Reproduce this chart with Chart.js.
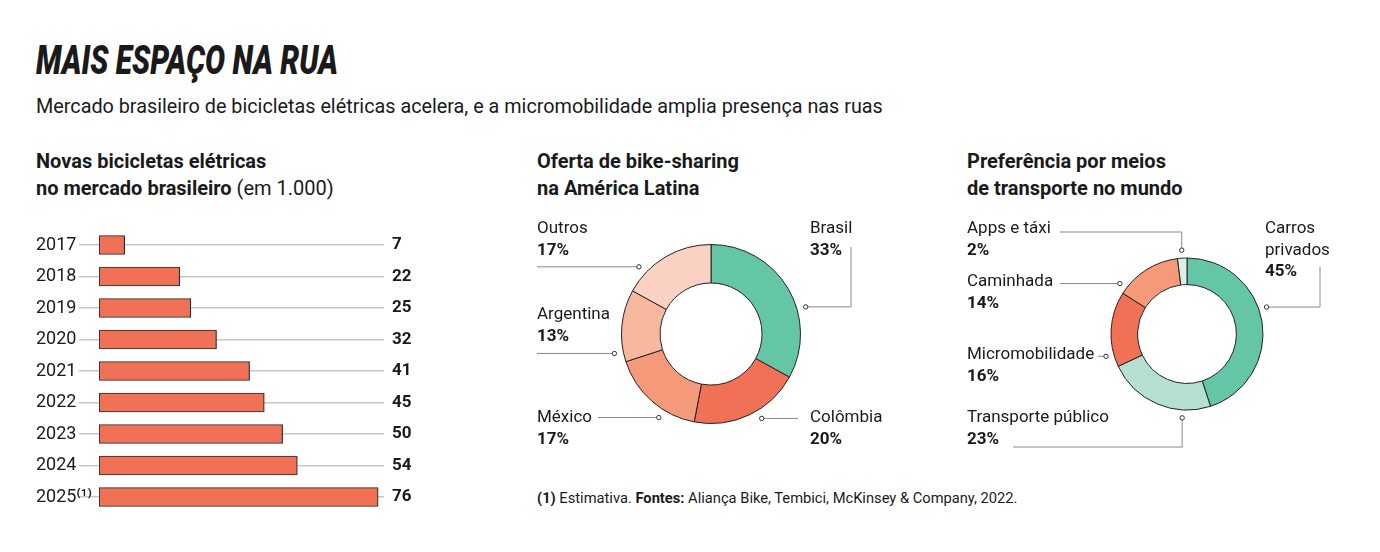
<!DOCTYPE html>
<html lang="pt-BR">
<head>
<meta charset="utf-8">
<title>Mais espaço na rua</title>
<script src="https://cdn.jsdelivr.net/npm/chart.js@4.4.1/dist/chart.umd.min.js"></script>
<style>
    html, body { margin: 0; padding: 0; background: #fff; }
    body { width: 1380px; height: 552px; position: relative; overflow: hidden; font-family: Roboto, "Noto Sans", sans-serif; color: #1a1a1a; }
    .title { position: absolute; left: 36px; top: 38px; font-size: 41px; font-weight: 900; font-style: italic; line-height: 44px; white-space: nowrap; transform: scaleX(0.73); transform-origin: left center; }
    .subtitle { position: absolute; left: 36px; top: 94px; font-size: 19.8px; line-height: 26px; white-space: nowrap; }
    .head { position: absolute; top: 148px; font-size: 20px; font-weight: 700; line-height: 27px; white-space: nowrap; }
    .head span { font-weight: 400; }
    .note { position: absolute; left: 537px; top: 487px; font-size: 14.7px; line-height: 22px; white-space: nowrap; }
    .note b { font-weight: 700; }
    canvas { position: absolute; }
</style>
</head>
<body>
<div class="title">MAIS ESPAÇO NA RUA</div>
<div class="subtitle">Mercado brasileiro de bicicletas elétricas acelera, e a micromobilidade amplia presença nas ruas</div>

<div class="head" style="left:36px">Novas bicicletas elétricas<br>no mercado brasileiro <span>(em 1.000)</span></div>
<div class="head" style="left:537px">Oferta de bike-sharing<br>na América Latina</div>
<div class="head" style="left:967px">Preferência por meios<br>de transporte no mundo</div>

<canvas id="bars" width="420" height="300" style="left:20px; top:220px"></canvas>
<canvas id="share" width="380" height="270" style="left:520px; top:200px"></canvas>
<canvas id="modes" width="400" height="270" style="left:950px; top:200px"></canvas>

<div class="note"><b>(1)</b> Estimativa. <b>Fontes:</b> Aliança Bike, Tembici, McKinsey &amp; Company, 2022.</div>

<script>
// Novas bicicletas elétricas (em 1.000)
const years = ['2017', '2018', '2019', '2020', '2021', '2022', '2023', '2024', '2025⁽¹⁾'];
const bikes = [7, 22, 25, 32, 41, 45, 50, 54, 76];

// Oferta de bike-sharing na América Latina (%)
const shareCountries = ['Brasil', 'Colômbia', 'México', 'Argentina', 'Outros'];
const shareValues = [33, 20, 17, 13, 17];

// Preferência por meios de transporte no mundo (%)
const modeNames = ['Carros privados', 'Transporte público', 'Micromobilidade', 'Caminhada', 'Apps e táxi'];
const modeValues = [45, 23, 16, 14, 2];

const INK = '#1a1a1a';
const FONT = 'Roboto, "Noto Sans", sans-serif';

// numbers to the right of each bar
const valueLabels = {
    id: 'valueLabels',
    afterDatasetsDraw(chart) {
        const { ctx, chartArea } = chart;
        const meta = chart.getDatasetMeta(0);
        const values = chart.data.datasets[0].data;
        ctx.save();
        ctx.font = '700 17px ' + FONT;
        ctx.fillStyle = INK;
        ctx.textBaseline = 'middle';
        meta.data.forEach((bar, i) => ctx.fillText(String(values[i]), chartArea.right + 8, bar.y));
        ctx.restore();
    }
};

// leader lines + labels around the doughnuts
const callouts = {
    id: 'callouts',
    afterDraw(chart, args, opts) {
        const { ctx } = chart;
        const arcs = chart.getDatasetMeta(0).data;
        if (!arcs.length) return;
        const cx = arcs[0].x, cy = arcs[0].y;
        const r = arcs[0].outerRadius + opts.gap;
        const names = chart.data.labels;
        const values = chart.data.datasets[0].data;

        ctx.save();
        opts.items.forEach(it => {
            const a = it.angle * Math.PI / 180;
            const px = cx + Math.sin(a) * r;
            const py = cy - Math.cos(a) * r;

            ctx.strokeStyle = '#8a8a8a';
            ctx.lineWidth = 1;
            ctx.beginPath();
            ctx.moveTo(px, py);
            if (it.leader === 'h') {
                ctx.lineTo(it.x2, py);
            } else if (it.leader === 'hv') {
                ctx.lineTo(it.x2, py);
                ctx.lineTo(it.x2, it.y2);
            } else if (it.leader === 'vh') {
                ctx.lineTo(px, it.y2);
                ctx.lineTo(it.x2, it.y2);
            }
            ctx.stroke();

            ctx.beginPath();
            ctx.arc(px, py, 2.2, 0, Math.PI * 2);
            ctx.fillStyle = '#fff';
            ctx.fill();
            ctx.strokeStyle = '#333';
            ctx.stroke();

            const name = names[it.index];
            const lines = it.split ? name.split(' ') : [name];
            ctx.fillStyle = INK;
            ctx.textBaseline = 'middle';
            ctx.textAlign = 'left';
            ctx.font = '400 17px ' + FONT;
            lines.forEach((ln, k) => ctx.fillText(ln, it.tx, it.ty + k * 21.5));
            ctx.font = '700 17px ' + FONT;
            ctx.fillText(values[it.index] + '%', it.tx, it.ty + lines.length * 21.5);
        });
        ctx.restore();
    }
};

new Chart(document.getElementById('bars'), {
    type: 'bar',
    data: {
        labels: years,
        datasets: [{
            data: bikes,
            backgroundColor: '#f07155',
            borderColor: '#2b2b2b',
            borderWidth: 1.2,
            borderSkipped: false,
            barThickness: 19
        }]
    },
    options: {
        indexAxis: 'y',
        responsive: false,
        animation: false,
        layout: { padding: { left: 16, right: 56, top: 9.25, bottom: 7.25 } },
        plugins: { legend: { display: false }, tooltip: { enabled: false } },
        scales: {
            x: { display: false, min: 0, max: 77.6 },
            y: {
                afterFit: scale => {
                    scale.width = 63;
                    scale.paddingTop = 0;
                    scale.paddingBottom = 0;
                },
                border: { display: false },
                grid: { offset: false, color: '#c8c8c8', lineWidth: 1.5, tickLength: 20 },
                ticks: { crossAlign: 'far', color: INK, font: { family: FONT, size: 18 } }
            }
        }
    },
    plugins: [valueLabels]
});

new Chart(document.getElementById('share'), {
    type: 'doughnut',
    data: {
        labels: shareCountries,
        datasets: [{
            data: shareValues,
            backgroundColor: ['#64c5a7', '#f07155', '#f5997b', '#f8b79f', '#fad1c2'],
            borderColor: '#222',
            borderWidth: 1
        }]
    },
    options: {
        responsive: false,
        animation: false,
        cutout: '57%',
        layout: { padding: { left: 101, right: 99, top: 44, bottom: 46 } },
        plugins: {
            legend: { display: false },
            tooltip: { enabled: false },
            callouts: {
                gap: 9,
                items: [
                    { index: 0, angle: 74, leader: 'hv', x2: 331, y2: 47, tx: 290, ty: 29 },
                    { index: 1, angle: 149, leader: 'h', x2: 278, tx: 290, ty: 218 },
                    { index: 2, angle: 212, leader: 'h', x2: 78, tx: 17, ty: 218 },
                    { index: 3, angle: 258.6, leader: 'h', x2: 17, tx: 17, ty: 115 },
                    { index: 4, angle: 313, leader: 'h', x2: 17, tx: 17, ty: 29 }
                ]
            }
        }
    },
    plugins: [callouts]
});

new Chart(document.getElementById('modes'), {
    type: 'doughnut',
    data: {
        labels: modeNames,
        datasets: [{
            data: modeValues,
            backgroundColor: ['#64c5a7', '#b4dfd1', '#f07155', '#f5997b', '#dbeee7'],
            borderColor: '#222',
            borderWidth: 1
        }]
    },
    options: {
        responsive: false,
        animation: false,
        cutout: '65%',
        layout: { padding: { left: 160.5, right: 86.5, top: 57.5, bottom: 59.5 } },
        plugins: {
            legend: { display: false },
            tooltip: { enabled: false },
            callouts: {
                gap: 8,
                items: [
                    { index: 0, angle: 71.3, leader: 'hv', x2: 370, y2: 67, tx: 315, ty: 29, split: true },
                    { index: 1, angle: 183.3, leader: 'vh', x2: 63, y2: 247, tx: 17, ty: 218 },
                    { index: 2, angle: 254.6, leader: 'h', x2: 148, tx: 17, ty: 155 },
                    { index: 3, angle: 306.9, leader: 'h', x2: 110, tx: 17, ty: 82 },
                    { index: 4, angle: 356.4, leader: 'vh', x2: 110, y2: 32, tx: 17, ty: 29 }
                ]
            }
        }
    },
    plugins: [callouts]
});
</script>
</body>
</html>
